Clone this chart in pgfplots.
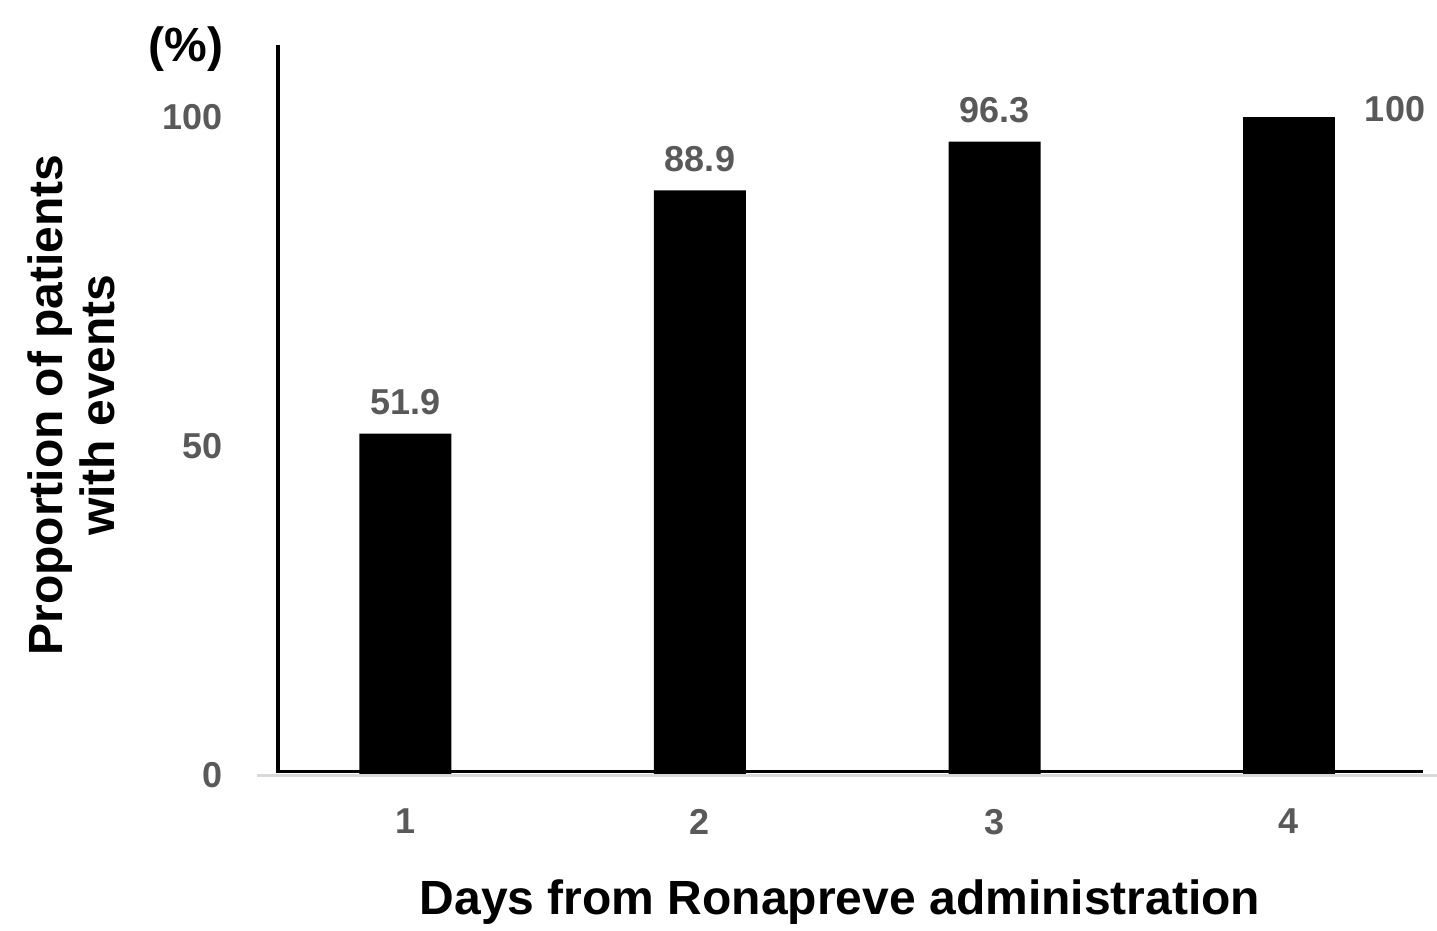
\documentclass[border=0pt]{standalone}
\usepackage{fontspec}
\setmainfont{Liberation Sans}
\usepackage{pgfplots}
\pgfplotsset{compat=1.18}
\definecolor{tickgray}{HTML}{595959}
\definecolor{linegray}{HTML}{D9D9D9}
\begin{document}
\begin{tikzpicture}
\useasboundingbox (-138.5pt,-78pt) rectangle (580pt,387.5pt);
\begin{axis}[
  at={(0pt,0pt)}, anchor=south west,
  scale only axis, width=573pt, height=365pt,
  xmin=0.5637, xmax=4.455, ymin=0, ymax=111,
  axis line style={draw=none},
  xtick={1,2,3,4}, ytick={0,50,100},
  major tick length=0pt,
  tick style={draw=none},
  /pgf/number format/assume math mode=true,
  ticklabel style={font=\fontsize{18}{21}\selectfont\bfseries, text=tickgray, inner sep=0pt},
  xticklabel style={anchor=north, yshift=-16.75pt},
  yticklabel style={anchor=east, xshift=-27pt},
  clip=false,
]
\addplot[ybar, bar width=46pt, bar shift=0pt, fill=black, draw=none,
  nodes near coords,
  nodes near coords style={font=\fontsize{18}{21}\selectfont\bfseries, text=tickgray, anchor=south, inner sep=0pt, yshift=9.25pt}]
  coordinates {(1,51.9) (2,88.9) (3,96.3)};
\addplot[ybar, bar width=46pt, bar shift=0pt, fill=black, draw=none]
  coordinates {(4,100)};
\node[font=\fontsize{18}{21}\selectfont\bfseries, text=tickgray, inner sep=0pt] at (axis cs:4.36,101.3) {100};
\end{axis}
\draw[linegray, line width=1.1pt] (-10pt,-0.25pt) -- (580pt,-0.25pt);
\draw[black, line width=1.8pt, line join=miter] (0.65pt,365pt) -- (0.65pt,1.75pt) -- (573pt,1.75pt);
\node[font=\fontsize{24}{27}\selectfont\bfseries, anchor=base, inner sep=0pt] at (281.5pt,-70pt) {Days from Ronapreve administration};
\node[font=\fontsize{24}{26}\selectfont\bfseries, rotate=90, align=center, inner sep=0pt] at (-102.75pt,185pt) {Proportion of patients\\with events};
\node[font=\fontsize{24}{27}\selectfont\bfseries, anchor=base, inner sep=0pt] at (-45.5pt,356.5pt) {(\%)};
\end{tikzpicture}
\end{document}
